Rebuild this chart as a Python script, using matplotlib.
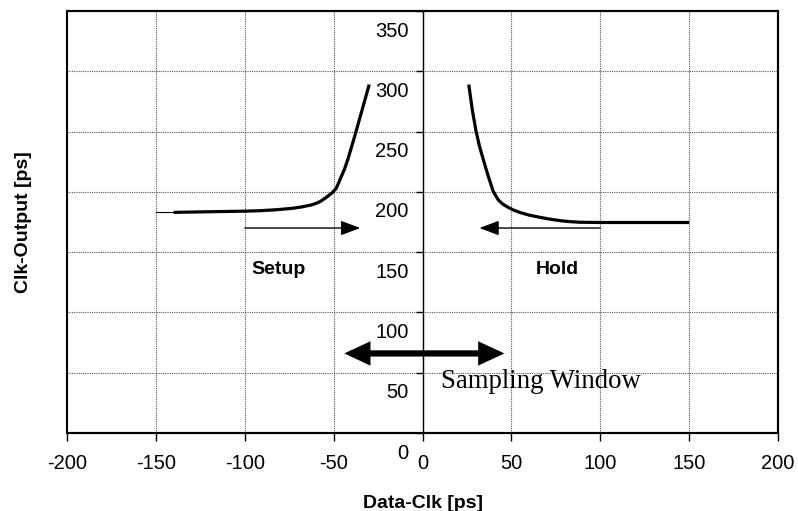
import numpy as np
import matplotlib.pyplot as plt
from matplotlib.patches import Rectangle
from matplotlib.transforms import ScaledTranslation

# data
setup_x = [-140, -120, -100, -91, -82, -73, -68, -63, -60, -57.5, -54, -51, -48.5,
           -46.5, -44, -42, -38, -34, -30]
setup_y = [183, 183.5, 184, 184.4, 185.2, 186.4, 187.5, 189, 190.4, 192, 195.6,
           199, 203, 210, 218.5, 227, 247, 268, 289]
setup_lead_x = [-150, -140]
setup_lead_y = [183, 183]

hold_x = [26, 28, 30, 32, 34.2, 37, 39.8, 42.6, 45, 47.4, 51, 55, 60, 66, 72,
          77.4, 83, 88.6, 100, 150]
hold_y = [289, 268, 251, 238, 226.7, 212.8, 200.3, 193.3, 190, 187.8, 185, 182.8,
          180.7, 178.9, 177.3, 176.1, 175.3, 174.8, 174.6, 174.6]

setup_arrow = (-100, -35, 170)   # tail x, tip x, y
hold_arrow = (100, 32, 170)
window_arrow = (-44, 46, 66)

x_ticks = [-200, -150, -100, -50, 0, 50, 100, 150, 200]
y_ticks = [0, 50, 100, 150, 200, 250, 300, 350]

plt.rcParams['font.family'] = ['Liberation Sans', 'DejaVu Sans']

fig = plt.figure(figsize=(7.98, 5.11), dpi=100)
ax = fig.add_axes([0.084, 0.1526, 0.891, 0.8259])

ax.set_xlim(-200, 200)
ax.set_ylim(0, 350)

# grid
for v in x_ticks[1:-1]:
    ax.axvline(v, color='#555555', lw=0.8, ls=(0, (1, 1)), zorder=1)
for v in y_ticks[1:-1]:
    ax.axhline(v, color='#555555', lw=0.8, ls=(0, (1, 1)), zorder=1)

# frame + centre axis
for s in ['top', 'right', 'bottom']:
    ax.spines[s].set_linewidth(1.5)
ax.spines['left'].set_position(('data', 0))
ax.spines['left'].set_linewidth(1.0)
ax.add_patch(Rectangle((0, 0), 1, 1, transform=ax.transAxes, fill=False,
                       lw=1.5, edgecolor='black', zorder=5, clip_on=False))

ax.set_xticks(x_ticks)
ax.set_xticklabels([str(v) for v in x_ticks], fontsize=14.5)
ax.set_yticks(y_ticks)
ax.set_yticklabels([str(v) for v in y_ticks], fontsize=14.5)
ax.tick_params(axis='x', direction='out', length=6, width=1, pad=9)
ax.tick_params(axis='y', direction='out', length=5, width=1, pad=5)
shift = ScaledTranslation(0, -13 / 72, fig.dpi_scale_trans)
for lab in ax.get_yticklabels():
    lab.set_transform(lab.get_transform() + shift)

# curves
ax.plot(setup_lead_x, setup_lead_y, color='black', lw=0.8, zorder=3)
ax.plot(setup_x, setup_y, color='black', lw=2.3, zorder=3,
        solid_capstyle='butt', solid_joinstyle='round')
ax.plot(hold_x, hold_y, color='black', lw=2.3, zorder=3,
        solid_capstyle='butt', solid_joinstyle='round')

# arrows
for tail, tip, y in [setup_arrow, hold_arrow]:
    ax.annotate('', xy=(tip, y), xytext=(tail, y),
                arrowprops=dict(arrowstyle='-|>,head_length=0.8,head_width=0.3',
                                color='black', lw=1.0, shrinkA=0, shrinkB=0,
                                mutation_scale=15))
l, r, y = window_arrow
ax.annotate('', xy=(r, y), xytext=(l, y),
            arrowprops=dict(arrowstyle='<|-|>,head_length=0.75,head_width=0.35',
                            color='black', lw=4.5, shrinkA=0, shrinkB=0,
                            mutation_scale=15, joinstyle='miter'))

ax.text(-81, 136, 'Setup', fontsize=14, fontweight='bold', ha='center', va='center')
ax.text(76, 136, 'Hold', fontsize=14, fontweight='bold', ha='center', va='center')
ax.text(10.5, 43, 'Sampling Window', fontsize=19.3, ha='left', va='center',
        family=['Liberation Serif', 'DejaVu Serif'])

ax.set_xlabel('Data-Clk [ps]', fontsize=14, fontweight='bold', labelpad=16)
ax.set_ylabel('Clk-Output [ps]', fontsize=14, fontweight='bold')
ax.yaxis.set_label_coords(-0.049, 0.5)

fig.savefig('out.png', dpi=100)
